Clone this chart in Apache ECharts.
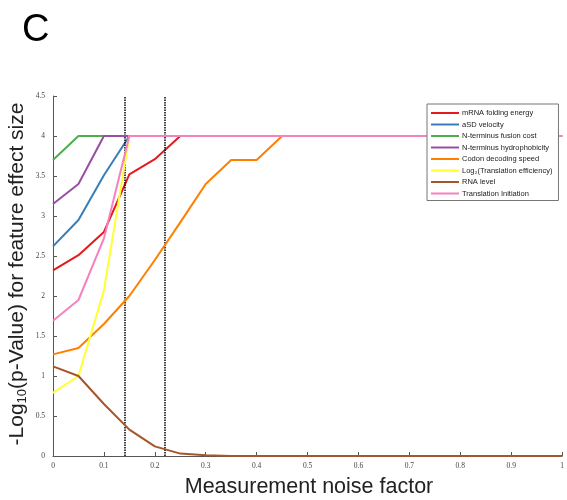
<!DOCTYPE html>
<html>
<head>
<meta charset="utf-8">
<script src="https://cdn.jsdelivr.net/npm/echarts@6/dist/echarts.min.js"></script>
<style>
  html, body { margin: 0; padding: 0; background: #fff; }
  #chart { width: 567px; height: 500px; }
</style>
</head>
<body>
<div id="chart"></div>
<script>
// noise levels (x) and -log10 p values per feature
var noise = [0, 0.05, 0.1, 0.15, 0.2, 0.25, 0.3, 0.35, 0.4, 0.45, 0.5, 0.55, 0.6, 0.65, 0.7, 0.75, 0.8, 0.85, 0.9, 0.95, 1];
var mrnaFolding = [2.32, 2.51, 2.8, 3.52, 3.71, 4, 4, 4, 4, 4, 4, 4, 4, 4, 4, 4, 4, 4, 4, 4, 4];
var asdVelocity = [2.62, 2.95, 3.51, 4, 4, 4, 4, 4, 4, 4, 4, 4, 4, 4, 4, 4, 4, 4, 4, 4, 4];
var ntermFusion = [3.7, 4, 4, 4, 4, 4, 4, 4, 4, 4, 4, 4, 4, 4, 4, 4, 4, 4, 4, 4, 4];
var ntermHydro = [3.15, 3.4, 4, 4, 4, 4, 4, 4, 4, 4, 4, 4, 4, 4, 4, 4, 4, 4, 4, 4, 4];
var codonSpeed = [1.27, 1.35, 1.65, 2.0, 2.45, 2.92, 3.4, 3.7, 3.7, 4, 4, 4, 4, 4, 4, 4, 4, 4, 4, 4, 4];
var translEff = [0.79, 1.0, 2.07, 4, 4, 4, 4, 4, 4, 4, 4, 4, 4, 4, 4, 4, 4, 4, 4, 4, 4];
var rnaLevel = [1.12, 1.0, 0.65, 0.33, 0.12, 0.03, 0.01, 0, 0, 0, 0, 0, 0, 0, 0, 0, 0, 0, 0, 0, 0];
var translInit = [1.69, 1.95, 2.72, 4, 4, 4, 4, 4, 4, 4, 4, 4, 4, 4, 4, 4, 4, 4, 4, 4, 4];
var thresholds = [1 / 7, 0.22];

var names = ['mRNA folding energy', 'aSD velocity', 'N-terminus fusion cost', 'N-terminus hydrophobicity',
  'Codon decoding speed', 'Log\u2082(Translation efficiency)', 'RNA level', 'Translation Initiation'];
var values = [mrnaFolding, asdVelocity, ntermFusion, ntermHydro, codonSpeed, translEff, rnaLevel, translInit];
var colors = ['#e41a1c', '#377eb8', '#4daf4a', '#984ea3', '#ff7f00', '#ffff33', '#a65628', '#f781bf'];

function pairs(ys) {
  return noise.map(function (x, i) { return [x, ys[i]]; });
}

var series = names.map(function (n, i) {
  return {
    name: n,
    type: 'line',
    data: pairs(values[i]),
    showSymbol: false,
    color: colors[i],
    lineStyle: { width: 2 },
    z: 2 + i
  };
});
series[0].markLine = {
  symbol: 'none',
  silent: true,
  label: { show: false },
  lineStyle: { color: '#000', width: 1.5, type: [1.5, 1] },
  data: thresholds.map(function (t) { return { xAxis: t }; })
};

var tickFont = { fontFamily: 'Liberation Serif', fontSize: 7.5, color: '#444' };

var chart = echarts.init(document.getElementById('chart'));
chart.setOption({
  backgroundColor: '#fff',
  animation: false,
  grid: { left: 53, right: 0, top: 96, bottom: 44 },
  xAxis: {
    type: 'value', min: 0, max: 1, interval: 0.1,
    axisLine: { lineStyle: { color: '#555', width: 1 } },
    axisTick: { inside: true, length: 4, lineStyle: { color: '#555' } },
    axisLabel: Object.assign({ margin: 6, formatter: function (v) { return String(+v.toFixed(1)); } }, tickFont),
    splitLine: { show: false }
  },
  yAxis: {
    type: 'value', min: 0, max: 4.5, interval: 0.5,
    axisLine: { show: true, lineStyle: { color: '#555', width: 1 } },
    axisTick: { show: true, inside: true, length: 4, lineStyle: { color: '#555' } },
    axisLabel: Object.assign({ margin: 8, formatter: function (v) { return String(+v.toFixed(1)); } }, tickFont),
    splitLine: { show: false }
  },
  legend: {
    orient: 'vertical',
    left: 427, top: 104,
    z: 50,
    padding: [5, 6, 3, 4],
    itemWidth: 28, itemHeight: 2, itemGap: 3.5,
    icon: 'rect',
    borderColor: '#777', borderWidth: 1,
    backgroundColor: '#fff',
    textStyle: { fontFamily: 'Liberation Sans', fontSize: 7.5, color: '#222', padding: [0, 0, 0, -2] },
    data: names
  },
  graphic: [
    { type: 'text', left: 22, top: 12, style: { text: 'C', fontFamily: 'Liberation Sans', fontSize: 38, fill: '#000' } },
    { type: 'text', x: 309, y: 487, style: { text: 'Measurement noise factor', fontFamily: 'Liberation Sans', fontSize: 21.5, fill: '#222', align: 'center', verticalAlign: 'middle' } },
    { type: 'text', x: 17, y: 274, rotation: Math.PI / 2,
      style: { text: '-Log{s|10}(p-Value) for feature effect size', fontFamily: 'Liberation Sans', fontSize: 21, fill: '#222', align: 'center', verticalAlign: 'middle',
        rich: { s: { fontSize: 13, fontFamily: 'Liberation Sans', fill: '#222', verticalAlign: 'bottom', padding: [10, 0, 0, 0] } } } }
  ],
  series: series
});
</script>
</body>
</html>
